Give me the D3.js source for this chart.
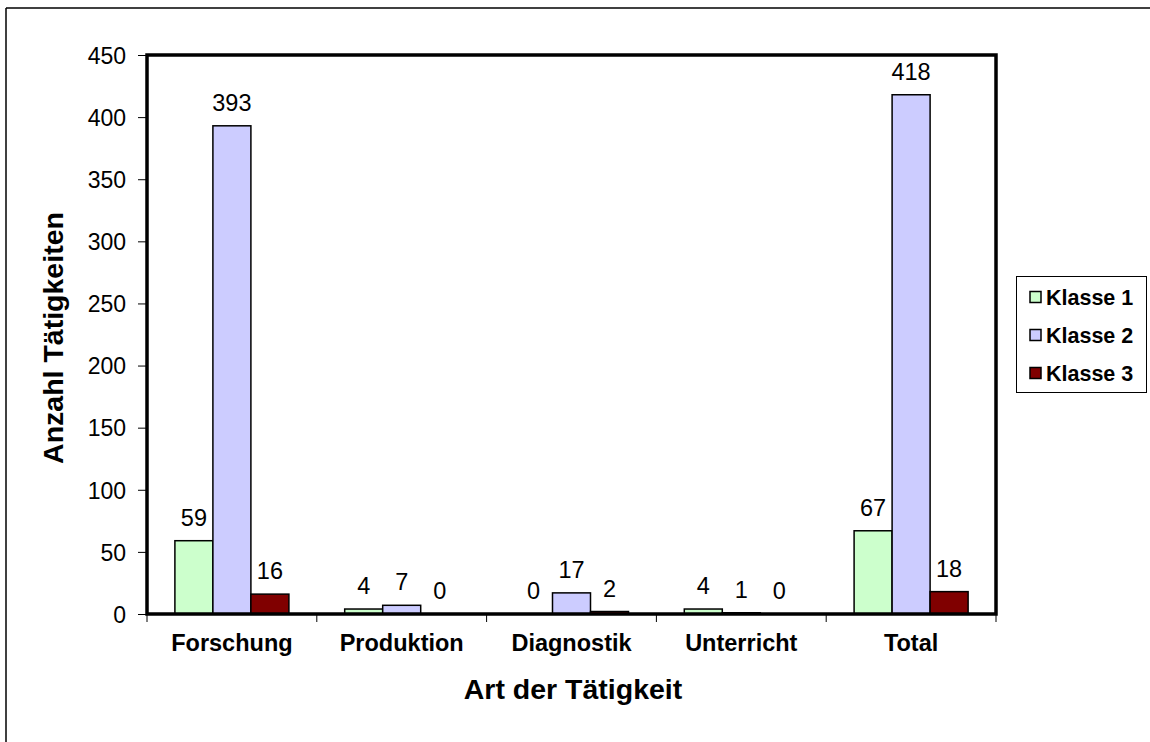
<!DOCTYPE html>
<html>
<head>
<meta charset="utf-8">
<script src="https://cdn.jsdelivr.net/npm/d3@7"></script>
<style>
  html, body { margin: 0; padding: 0; background: #fff; }
  svg { display: block; font-family: "Liberation Sans", Arial, sans-serif; }
</style>
</head>
<body>
<svg id="chart" width="1150" height="742"></svg>
<script>
const categories = ["Forschung", "Produktion", "Diagnostik", "Unterricht", "Total"];
const seriesNames = ["Klasse 1", "Klasse 2", "Klasse 3"];
const klasse1 = [59, 4, 0, 4, 67];
const klasse2 = [393, 7, 17, 1, 418];
const klasse3 = [16, 0, 2, 0, 18];
const seriesColors = ["#CCFFCC", "#CCCCFF", "#800000"];
const yTicks = [0, 50, 100, 150, 200, 250, 300, 350, 400, 450];
const yTitle = "Anzahl Tätigkeiten";
const xTitle = "Art der Tätigkeit";

const seriesValues = [klasse1, klasse2, klasse3];

const svg = d3.select("#chart");
const plot = { left: 147, right: 996, top: 55, bottom: 614 };

// outer chart border (left and top visible)
svg.append("line").attr("x1", 6).attr("y1", 8).attr("x2", 1150).attr("y2", 8)
  .attr("stroke", "#000").attr("stroke-width", 1.5);
svg.append("line").attr("x1", 6).attr("y1", 8).attr("x2", 6).attr("y2", 742)
  .attr("stroke", "#000").attr("stroke-width", 1.5);

const x0 = d3.scaleBand().domain(categories).range([plot.left, plot.right]).padding(0);
const x1 = d3.scaleBand().domain(seriesNames).range([0, x0.bandwidth()]).paddingInner(0).paddingOuter(0.734);
const y = d3.scaleLinear().domain([0, 450]).range([plot.bottom, plot.top]);

// y axis ticks
const yAxis = d3.axisLeft(y).tickValues(yTicks).tickSize(9).tickPadding(12);
const gy = svg.append("g").attr("transform", `translate(${plot.left},0)`).call(yAxis);
gy.select(".domain").remove();
gy.selectAll("line").attr("stroke", "#000").attr("stroke-width", 1);
gy.selectAll("text").attr("font-size", 23).attr("fill", "#000").attr("dy", "0.36em");

// x axis ticks at band boundaries
const boundaries = categories.map(c => x0(c)).concat([plot.right]);
svg.append("g").selectAll("line").data(boundaries).join("line")
  .attr("x1", d => d).attr("x2", d => d)
  .attr("y1", plot.bottom).attr("y2", plot.bottom + 8)
  .attr("stroke", "#000").attr("stroke-width", 1);

// category labels
svg.append("g").selectAll("text").data(categories).join("text")
  .attr("x", d => x0(d) + x0.bandwidth() / 2)
  .attr("y", 651)
  .attr("text-anchor", "middle")
  .attr("font-size", 23.5).attr("font-weight", "bold")
  .text(d => d);

// bars
const data = [];
categories.forEach((c, i) => {
  seriesNames.forEach((s, j) => {
    data.push({ cat: c, series: s, value: seriesValues[j][i], color: seriesColors[j] });
  });
});

svg.append("g").selectAll("rect").data(data).join("rect")
  .attr("x", d => x0(d.cat) + x1(d.series))
  .attr("y", d => y(d.value))
  .attr("width", x1.bandwidth())
  .attr("height", d => y(0) - y(d.value))
  .attr("fill", d => d.color)
  .attr("stroke", "#000").attr("stroke-width", 1.5);

// value labels
svg.append("g").selectAll("text").data(data).join("text")
  .attr("x", d => x0(d.cat) + x1(d.series) + x1.bandwidth() / 2)
  .attr("y", d => y(d.value) - 15)
  .attr("text-anchor", "middle")
  .attr("font-size", 23.5).attr("fill", "#000")
  .text(d => d.value);

// plot frame
svg.append("rect")
  .attr("x", plot.left).attr("y", plot.top)
  .attr("width", plot.right - plot.left).attr("height", plot.bottom - plot.top)
  .attr("fill", "none").attr("stroke", "#000").attr("stroke-width", 3.5);

// axis titles
svg.append("text")
  .attr("transform", `translate(63,338) rotate(-90)`)
  .attr("text-anchor", "middle")
  .attr("font-size", 28.5).attr("font-weight", "bold")
  .text(yTitle);

svg.append("text")
  .attr("x", 573).attr("y", 699)
  .attr("text-anchor", "middle")
  .attr("font-size", 28.5).attr("font-weight", "bold")
  .text(xTitle);

// legend
const legend = svg.append("g");
legend.append("rect")
  .attr("x", 1016.5).attr("y", 276.5).attr("width", 130).attr("height", 116)
  .attr("fill", "#fff").attr("stroke", "#000").attr("stroke-width", 1);
const legY = d3.scalePoint().domain(seriesNames).range([297, 373]);
const items = legend.selectAll("g.item").data(seriesNames).join("g").attr("class", "item");
items.append("rect")
  .attr("x", 1030).attr("y", d => legY(d) - 5.5)
  .attr("width", 11).attr("height", 11)
  .attr("fill", (d, i) => seriesColors[i])
  .attr("stroke", "#000").attr("stroke-width", 1.5);
items.append("text")
  .attr("x", 1046).attr("y", d => legY(d) + 7.5)
  .attr("font-size", 21.5).attr("font-weight", "bold")
  .text(d => d);
</script>
</body>
</html>
